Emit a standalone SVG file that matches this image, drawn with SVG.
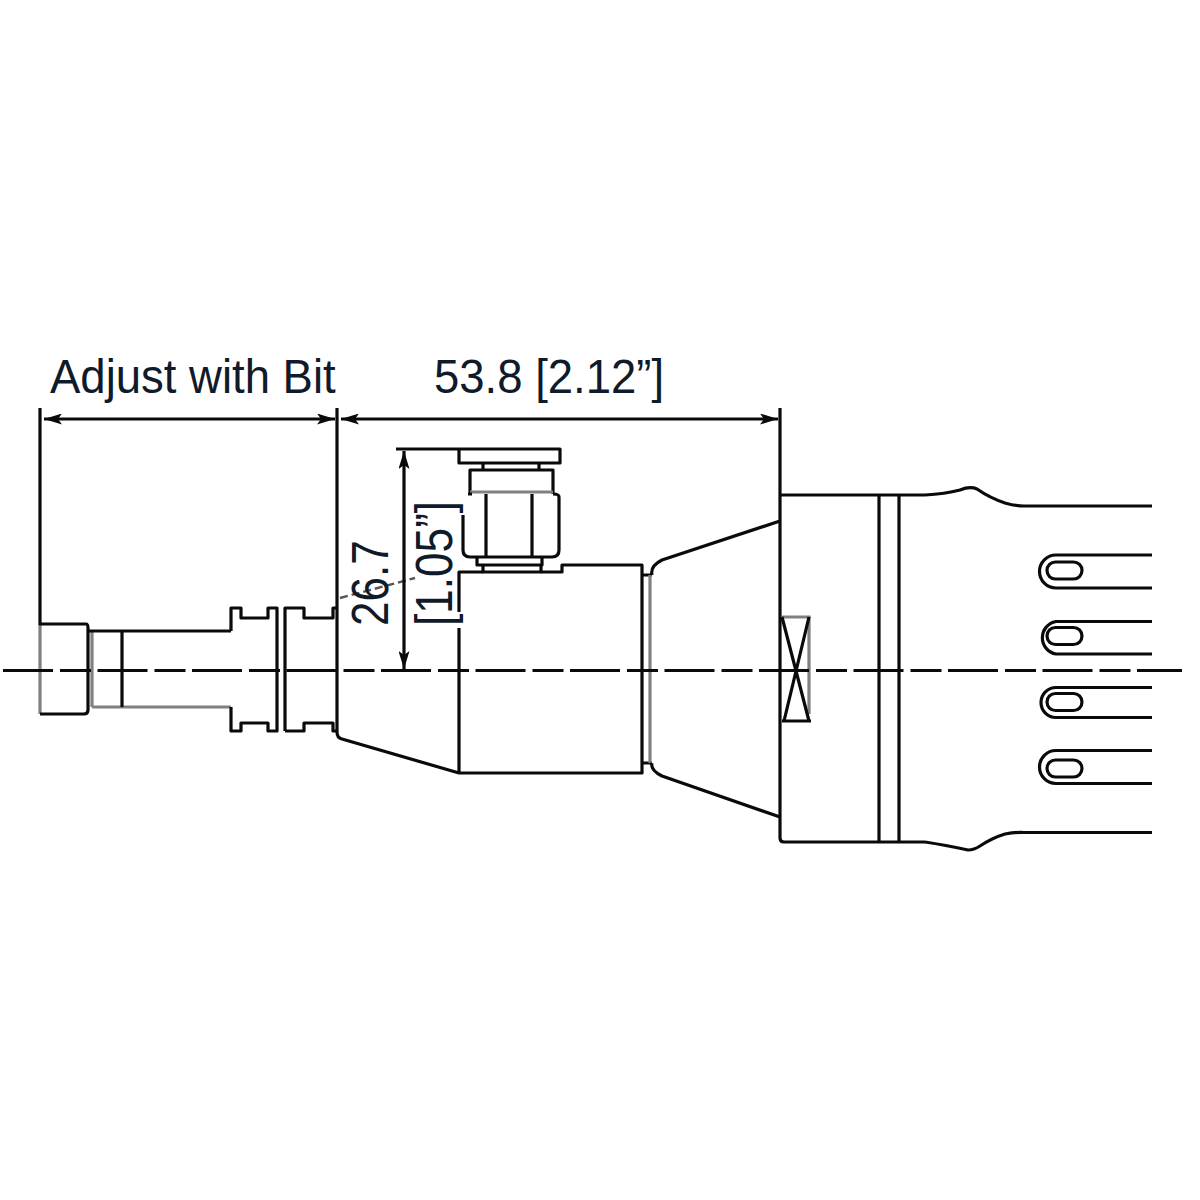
<svg xmlns="http://www.w3.org/2000/svg" width="1200" height="1200" viewBox="0 0 1200 1200">
<style>
.l{fill:none;stroke:#0a0a0a;stroke-width:3.2;stroke-linejoin:round;stroke-linecap:butt}
.g{fill:none;stroke:#808080;stroke-width:3.2}
.t{fill:#0f1a2a;font-family:"Liberation Sans",Arial,sans-serif;font-size:45.500px}
</style>
<defs>
<marker id="a" viewBox="0 0 18 11" refX="18" refY="5.500" markerWidth="18" markerHeight="11" markerUnits="userSpaceOnUse" orient="auto-start-reverse"><path d="M0 0L18 5.500L0 11L4 5.500Z" fill="#0a0a0a"/></marker>
</defs>
<rect width="1200" height="1200" fill="#fff"/>
<g id="leader"><path d="M340 598L415 578" fill="none" stroke="#555" stroke-width="2.400" stroke-dasharray="8 4"/></g>
<g id="bit">
<path class="g" d="M40 624V714M92 707H231M92 631V707"/>
<path class="l" d="M40 408V624H86Q88 624 88 628V710Q88 714 84 714H40"/>
<path class="l" d="M88 631H231M122 631V707M231 631V608H241V618H268V608H277V731H268V723H241V731H231V707"/>
<path class="l" d="M285 731V608H304V618H333V608H337M285 731H304V723H333V731H337"/>
</g>
<g id="body">
<path class="l" d="M337 408V732Q337 738 342 739L459 773H642V565H562V572H541M483 572H459V612M459 628V773"/>
<path class="l" d="M642 575H652M642 763H652"/>
<path class="g" d="M650 575V763"/>
<path class="l" d="M652 575Q650 566 662 560L780 521M652 763Q650 770 662 776L780 817"/>
</g>
<g id="fitting">
<path class="l" d="M396 449H560V463H459V449M483 463V469M539 463V469M470 494V470H553V494"/>
<path class="g" d="M470 492H553"/>
<path class="l" d="M463 515V550Q463 557 470 557H552Q559 557 559 550V497Q559 494 553 494M486 494V557M532 494V557M468 494H472"/>
<path class="l" d="M477 558V565H542V558M483 565V572H541V565"/>
</g>
<g id="housing">
<path class="l" d="M780 408V838Q780 842 784 842H925M780 495H925M879 495V842M899 495V842"/>
<path class="l" d="M925 495Q945 494 960 490Q970 486 977 489Q990 498 1005 503Q1015 506 1024 506H1152"/>
<path class="l" d="M925 842Q945 845 968 850Q974 850 980 846Q992 838 1005 834Q1015 832 1024 832.500H1152"/>
<path class="g" d="M782 617H809V714"/>
<path class="l" d="M782 617L809 721M809 617L784 721M782 721H811"/>
</g>
<g id="slots">
<path class="l" d="M1152 555H1056A16.500 16.500 0 0 0 1056 588H1152"/>
<path class="l" d="M1152 621.500H1056A16.500 16.500 0 0 0 1056 654H1152"/>
<path class="l" d="M1152 687.500H1056A15 15 0 0 0 1056 717.500H1152"/>
<path class="l" d="M1152 750.500H1056A16.500 16.500 0 0 0 1056 783.500H1152"/>
<rect class="l" x="1047" y="562" width="35" height="17" rx="8.500"/>
<rect class="l" x="1047" y="627.500" width="35" height="17" rx="8.500"/>
<rect class="l" x="1047" y="693.500" width="35" height="17" rx="8.500"/>
<rect class="l" x="1047" y="760" width="35" height="17" rx="8.500"/>
</g>
<g id="centerline"><path class="l" d="M3 670.500H1182" stroke-dasharray="50 7 31 6.500"/></g>
<g id="dimensions">
<path class="l" d="M44 419H335" marker-start="url(#a)" marker-end="url(#a)"/>
<path class="l" d="M341 419H778" marker-start="url(#a)" marker-end="url(#a)"/>
<path class="l" d="M404 451V669" marker-start="url(#a)" marker-end="url(#a)"/>
</g>
<g id="labels">
<text class="t" transform="translate(50 393) scale(1 1.060)">Adjust with Bit</text>
<text class="t" transform="translate(434 393) scale(1 1.060)">53.8 [2.12”]</text>
<text class="t" transform="translate(388 626) rotate(-90) scale(0.970 1.120)">26.7</text>
<text class="t" transform="translate(452 626) rotate(-90) scale(0.970 1.120)">[1.05”]</text>
</g>
</svg>
